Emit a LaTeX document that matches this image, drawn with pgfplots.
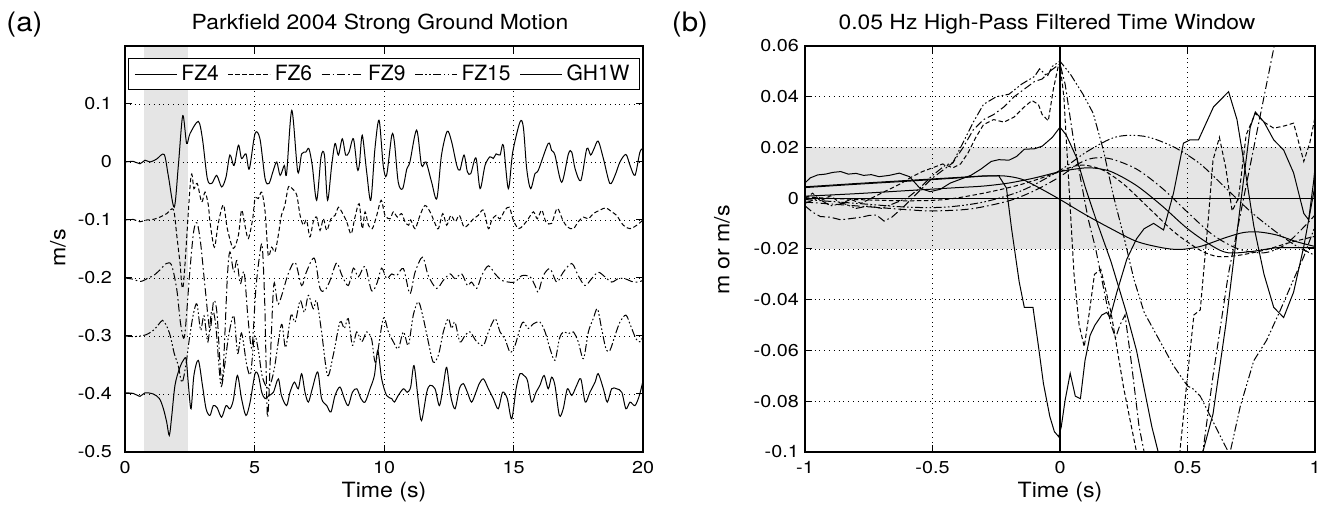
\documentclass[border=0pt]{standalone}
\usepackage{fontspec}
\setmainfont{TeX Gyre Heros}
\usepackage{pgfplots}
\pgfplotsset{compat=1.18}
\tikzset{
  fzsix/.style={dash pattern=on 2.2pt off 1.3pt},
  fznine/.style={dash pattern=on 4pt off 1.5pt on 0.8pt off 1.5pt},
  fzfifteen/.style={dash pattern=on 4pt off 1.2pt on 0.8pt off 1.2pt on 0.8pt off 1.2pt},
}
\pgfplotsset{
  mystyle/.style={
    scale only axis, height=203pt,
    axis line style={line width=1.1pt},
    tick align=inside, major tick length=3.5pt,
    tick style={black, line width=0.5pt},
    grid=major, grid style={dotted, black, line width=0.45pt},
    axis on top,
    cycle list={{black, solid, mark=none}},
    ticklabel style={font=\fontsize{8.6}{10}\selectfont, inner sep=0pt, xscale=1.15},
    xticklabel style={anchor=base, yshift=-11pt},
    every axis plot/.append style={line width=0.5pt, black, mark=none},
  }
}
\begin{document}
\begin{tikzpicture}
\begin{axis}[mystyle, at={(0pt,0pt)}, anchor=south west, width=259pt,
  xmin=0, xmax=20, ymin=-0.5, ymax=0.2,
  xtick={0,5,10,15,20}, xticklabels={0,5,10,15,20},
  ytick={-0.5,-0.4,-0.3,-0.2,-0.1,0,0.1}, yticklabels={-0.5,-0.4,-0.3,-0.2,-0.1,0,0.1},
  yticklabel style={anchor=east, xshift=-5.5pt},
  legend image code/.code={\draw[#1, line width=0.5pt] (0pt,0pt) -- (21pt,0pt);},
  legend style={at={(0.5,0.97)}, anchor=north, legend columns=5, draw=black, line width=0.6pt,
    font=\fontsize{10.5}{12.5}\selectfont, inner xsep=3pt, inner ysep=1pt,
    /tikz/every odd column/.append style={column sep=0pt},
    /tikz/every even column/.append style={column sep=2.5pt}},
]
\addplot[fill=black!10, draw=none, forget plot] coordinates {(0.73,-0.5) (0.73,0.2) (2.45,0.2) (2.45,-0.5)} -- cycle;
% FZ4
\addplot[smooth] coordinates {
(0,0)(0.32,0.001)(0.58,-0.003)(0.77,0.003)(0.97,0)(1.22,0.005)(1.51,0.013)(1.67,-0.023)(1.90,-0.078)(2.06,-0.006)(2.23,0.08)(2.38,0.032)(2.51,0.049)(2.83,0.07)(2.99,0.04)(3.18,-0.029)(3.35,-0.037)(3.54,-0.023)(3.73,-0.043)(3.90,-0.026)(4.05,0.012)(4.21,-0.006)(4.38,0.029)(4.50,0.006)(4.67,0.014)(4.80,-0.012)(5.02,0.049)(5.21,0.04)(5.41,-0.029)(5.56,-0.037)(5.73,-0.014)(5.86,0)(5.99,-0.023)(6.15,-0.006)(6.24,-0.02)(6.44,0.089)(6.67,-0.017)(6.82,0.014)(6.98,0.017)(7.10,0.023)(7.23,-0.006)(7.40,-0.066)(7.57,0.009)(7.70,0.012)(7.82,-0.066)(7.98,-0.006)(8.11,0.032)(8.24,0.012)(8.39,0.04)(8.52,0.012)(8.65,0.017)(8.82,0.04)(8.97,-0.012)(9.05,-0.004)(9.16,0.046)(9.33,-0.017)(9.49,-0.066)(9.65,0.023)(9.81,0.072)(9.97,-0.006)(10.10,-0.023)(10.30,0.046)(10.40,0.035)(10.55,-0.035)(10.72,-0.046)(10.88,-0.012)(11.0,0)(11.26,0.055)(11.45,-0.006)(11.62,0)(11.84,-0.035)(12.04,-0.063)(12.22,0.012)(12.44,0.053)(12.61,0.035)(12.81,-0.006)(12.93,-0.014)(13.09,0.012)(13.22,-0.017)(13.35,-0.02)(13.55,0.007)(13.71,-0.046)(13.90,-0.006)(14.09,0.009)(14.22,0.006)(14.33,0.014)(14.48,0.012)(14.61,0.029)(14.80,-0.046)(14.97,0.017)(15.25,0.069)(15.38,0.06)(15.51,-0.012)(15.66,-0.046)(15.83,-0.02)(15.96,-0.014)(16.34,0.032)(16.47,0.02)(16.60,0.012)(16.86,-0.035)(17.12,0.014)(17.25,0.017)(17.38,-0.012)(17.60,-0.032)(17.83,0.023)(17.98,0.012)(18.11,0.023)(18.27,0.036)(18.47,0.006)(18.72,-0.037)(18.92,-0.023)(19.11,0)(19.34,0.013)(19.50,-0.006)(19.69,-0.023)(19.88,0.017)(20.0,0.023)
};
\addlegendentry{FZ4}
% FZ6
\addplot[smooth, fzsix] coordinates {
(0,-0.1)(0.32,-0.099)(0.58,-0.103)(0.84,-0.1)(1.09,-0.099)(1.35,-0.095)(1.61,-0.089)(1.87,-0.082)(2.0,-0.127)(2.12,-0.172)(2.25,-0.213)(2.54,-0.028)(2.66,-0.046)(2.79,-0.037)(2.96,-0.069)(3.09,-0.052)(3.22,-0.075)(3.28,-0.103)(3.45,-0.147)(3.60,-0.106)(3.80,-0.074)(3.95,-0.115)(4.18,-0.149)(4.38,-0.126)(4.50,-0.083)(4.63,-0.109)(4.76,-0.132)(4.93,-0.098)(5.02,-0.063)(5.15,-0.063)(5.28,-0.052)(5.41,-0.086)(5.53,-0.161)(5.66,-0.147)(5.79,-0.155)(5.92,-0.126)(6.04,-0.092)(6.17,-0.075)(6.31,-0.043)(6.46,-0.046)(6.63,-0.057)(6.76,-0.092)(6.89,-0.109)(7.01,-0.1)(7.14,-0.129)(7.27,-0.103)(7.40,-0.095)(7.53,-0.118)(7.66,-0.098)(7.79,-0.118)(7.95,-0.098)(8.11,-0.092)(8.24,-0.078)(8.37,-0.086)(8.56,-0.103)(8.73,-0.124)(8.88,-0.095)(9.04,-0.072)(9.16,-0.115)(9.27,-0.086)(9.40,-0.109)(9.55,-0.115)(9.72,-0.092)(9.89,-0.066)(10.04,-0.092)(10.23,-0.098)(10.36,-0.086)(10.52,-0.095)(10.68,-0.089)(10.81,-0.103)(10.95,-0.109)(11.03,-0.1)(11.20,-0.115)(11.39,-0.092)(11.58,-0.075)(11.78,-0.086)(11.97,-0.106)(12.10,-0.115)(12.27,-0.089)(12.42,-0.109)(12.58,-0.092)(12.75,-0.103)(12.91,-0.092)(13.09,-0.112)(13.30,-0.106)(13.45,-0.098)(13.64,-0.092)(13.84,-0.083)(14.03,-0.115)(14.16,-0.1)(14.33,-0.092)(14.48,-0.098)(14.67,-0.083)(14.84,-0.078)(14.99,-0.1)(15.19,-0.115)(15.38,-0.109)(15.57,-0.098)(15.77,-0.086)(15.92,-0.098)(16.09,-0.083)(16.25,-0.103)(16.47,-0.106)(16.69,-0.08)(16.90,-0.1)(17.08,-0.112)(17.31,-0.115)(17.50,-0.103)(17.70,-0.095)(17.89,-0.098)(18.08,-0.089)(18.34,-0.083)(18.57,-0.079)(18.79,-0.086)(18.98,-0.092)(19.24,-0.109)(19.50,-0.115)(19.76,-0.109)(20.0,-0.1)
};
\addlegendentry{FZ6}
% FZ9
\addplot[smooth, fznine] coordinates {
(0,-0.2)(0.3,-0.202)(0.6,-0.206)(0.9,-0.2)(1.1,-0.196)(1.35,-0.186)(1.6,-0.175)(1.8,-0.178)(2.0,-0.22)(2.15,-0.28)(2.3,-0.30)(2.5,-0.19)(2.65,-0.12)(2.78,-0.105)(2.92,-0.14)(3.1,-0.22)(3.28,-0.29)(3.42,-0.24)(3.55,-0.26)(3.75,-0.38)(3.95,-0.2)(4.05,-0.155)(4.2,-0.19)(4.32,-0.17)(4.45,-0.21)(4.6,-0.19)(4.75,-0.27)(4.9,-0.32)(5.05,-0.22)(5.2,-0.16)(5.3,-0.145)(5.4,-0.25)(5.5,-0.44)(5.62,-0.33)(5.75,-0.21)(5.92,-0.245)(6.3,-0.193)(6.57,-0.173)(6.82,-0.213)(7.0,-0.19)(7.31,-0.166)(7.53,-0.218)(7.72,-0.221)(7.91,-0.205)(8.17,-0.174)(8.37,-0.195)(8.62,-0.213)(8.82,-0.183)(9.01,-0.198)(9.27,-0.180)(9.52,-0.222)(9.72,-0.21)(9.91,-0.183)(10.10,-0.201)(10.30,-0.193)(10.49,-0.196)(10.75,-0.184)(11.0,-0.227)(11.2,-0.19)(11.49,-0.164)(11.71,-0.196)(12.03,-0.218)(12.29,-0.204)(12.55,-0.193)(12.74,-0.201)(13.0,-0.193)(13.22,-0.213)(13.38,-0.207)(13.58,-0.218)(13.77,-0.196)(14.03,-0.179)(14.29,-0.193)(14.54,-0.204)(14.8,-0.207)(15.06,-0.207)(15.32,-0.196)(15.64,-0.198)(15.83,-0.213)(15.96,-0.224)(16.15,-0.196)(16.41,-0.184)(16.67,-0.207)(16.92,-0.19)(17.25,-0.175)(17.5,-0.196)(17.76,-0.213)(18.02,-0.201)(18.27,-0.19)(18.53,-0.198)(18.79,-0.207)(19.05,-0.201)(19.3,-0.201)(19.56,-0.206)(19.82,-0.207)(20.0,-0.204)
};
\addlegendentry{FZ9}
% FZ15
\addplot[smooth, fzfifteen] coordinates {
(0,-0.3)(0.4,-0.301)(0.8,-0.298)(1.1,-0.29)(1.3,-0.28)(1.45,-0.273)(1.6,-0.282)(1.75,-0.30)(1.9,-0.33)(2.05,-0.35)(2.2,-0.38)(2.35,-0.35)(2.5,-0.3)(2.65,-0.26)(2.78,-0.245)(2.92,-0.29)(3.05,-0.265)(3.2,-0.31)(3.35,-0.255)(3.5,-0.28)(3.7,-0.385)(3.85,-0.35)(4.0,-0.30)(4.2,-0.265)(4.35,-0.33)(4.5,-0.295)(4.7,-0.35)(4.85,-0.365)(5.0,-0.3)(5.15,-0.325)(5.3,-0.37)(5.53,-0.39)(5.75,-0.36)(6.04,-0.28)(6.2,-0.32)(6.41,-0.264)(6.57,-0.276)(6.76,-0.239)(6.93,-0.259)(7.08,-0.23)(7.27,-0.253)(7.4,-0.239)(7.59,-0.293)(7.82,-0.368)(8.04,-0.333)(8.3,-0.276)(8.47,-0.287)(8.62,-0.27)(8.78,-0.316)(8.95,-0.293)(9.14,-0.31)(9.33,-0.293)(9.52,-0.305)(9.68,-0.345)(9.97,-0.27)(10.17,-0.293)(10.36,-0.31)(10.55,-0.322)(10.75,-0.293)(10.94,-0.316)(11.13,-0.264)(11.33,-0.241)(11.52,-0.27)(11.71,-0.31)(11.9,-0.345)(12.1,-0.333)(12.29,-0.293)(12.48,-0.27)(12.61,-0.287)(12.74,-0.276)(12.93,-0.31)(13.13,-0.299)(13.32,-0.293)(13.58,-0.31)(13.84,-0.316)(14.03,-0.293)(14.29,-0.27)(14.48,-0.293)(14.67,-0.305)(14.87,-0.328)(15.06,-0.316)(15.25,-0.287)(15.38,-0.276)(15.57,-0.287)(15.77,-0.279)(16.02,-0.276)(16.22,-0.293)(16.41,-0.322)(16.6,-0.342)(16.77,-0.305)(16.92,-0.293)(17.12,-0.296)(17.31,-0.293)(17.5,-0.31)(17.7,-0.339)(17.89,-0.293)(18.08,-0.27)(18.24,-0.253)(18.4,-0.287)(18.57,-0.322)(18.72,-0.325)(18.92,-0.299)(19.11,-0.276)(19.34,-0.264)(19.52,-0.282)(19.73,-0.305)(19.88,-0.31)(20.0,-0.301)
};
\addlegendentry{FZ15}
% GH1W
\addplot[smooth] coordinates {
(0,-0.398)(0.32,-0.399)(0.58,-0.404)(0.77,-0.398)(1.09,-0.400)(1.33,-0.408)(1.48,-0.425)(1.61,-0.4485)(1.71,-0.4715)(1.80,-0.44)(1.93,-0.385)(2.10,-0.3565)(2.25,-0.342)(2.36,-0.340)(2.45,-0.385)(2.55,-0.4255)(2.66,-0.368)(2.83,-0.342)(2.99,-0.385)(3.13,-0.4255)(3.28,-0.437)(3.41,-0.42)(3.56,-0.424)(3.73,-0.44)(3.90,-0.42)(4.05,-0.4255)(4.18,-0.411)(4.34,-0.368)(4.50,-0.408)(4.67,-0.437)(4.83,-0.414)(5.02,-0.365)(5.15,-0.368)(5.28,-0.397)(5.41,-0.408)(5.56,-0.4025)(5.73,-0.397)(5.92,-0.374)(6.04,-0.4025)(6.24,-0.42)(6.37,-0.397)(6.54,-0.3795)(6.69,-0.391)(6.82,-0.365)(6.95,-0.397)(7.08,-0.414)(7.23,-0.391)(7.44,-0.362)(7.59,-0.408)(7.79,-0.42)(7.95,-0.431)(8.11,-0.4025)(8.30,-0.388)(8.47,-0.408)(8.62,-0.42)(8.78,-0.397)(8.95,-0.391)(9.11,-0.408)(9.27,-0.414)(9.46,-0.391)(9.63,-0.368)(9.76,-0.325)(9.91,-0.374)(10.10,-0.4025)(10.30,-0.408)(10.40,-0.414)(10.55,-0.4025)(10.75,-0.391)(10.90,-0.397)(11.03,-0.388)(11.16,-0.351)(11.33,-0.414)(11.45,-0.446)(11.65,-0.397)(11.78,-0.385)(11.97,-0.391)(12.14,-0.42)(12.29,-0.385)(12.42,-0.354)(12.57,-0.4025)(12.74,-0.4255)(12.91,-0.391)(13.06,-0.382)(13.22,-0.397)(13.38,-0.414)(13.55,-0.397)(13.68,-0.382)(13.84,-0.374)(14.03,-0.391)(14.22,-0.408)(14.41,-0.4255)(14.58,-0.397)(14.76,-0.408)(14.93,-0.443)(15.10,-0.391)(15.25,-0.365)(15.40,-0.368)(15.54,-0.377)(15.70,-0.414)(15.87,-0.397)(16.02,-0.385)(16.18,-0.368)(16.34,-0.391)(16.47,-0.371)(16.60,-0.385)(16.77,-0.437)(16.92,-0.4255)(17.08,-0.391)(17.25,-0.4025)(17.44,-0.385)(17.60,-0.374)(17.77,-0.414)(17.95,-0.397)(18.15,-0.3795)(18.27,-0.365)(18.47,-0.391)(18.62,-0.414)(18.79,-0.391)(18.98,-0.391)(19.18,-0.397)(19.34,-0.4255)(19.50,-0.414)(19.69,-0.42)(19.86,-0.4025)(20.0,-0.377)
};
\addlegendentry{GH1W}
\end{axis}

\begin{axis}[mystyle, at={(340pt,0pt)}, anchor=south west, width=255pt,
  xmin=-1, xmax=1, ymin=-0.1, ymax=0.06,
  xtick={-1,-0.5,0,0.5,1}, xticklabels={-1,-0.5,0,0.5,1},
  ytick={-0.1,-0.08,-0.06,-0.04,-0.02,0,0.02,0.04,0.06},
  yticklabels={-0.1,-0.08,-0.06,-0.04,-0.02,0,0.02,0.04,0.06},
  yticklabel style={anchor=east, xshift=-2.5pt},
]
\addplot[fill=black!10, draw=none] coordinates {(-1,-0.02) (1,-0.02) (1,0.02) (-1,0.02)} -- cycle;
\addplot[line width=0.6pt] coordinates {(-1,0) (1,0)};
\addplot[line width=0.6pt] coordinates {(0,-0.1) (0,0.06)};
% solid displacement curves
\addplot[smooth] coordinates {(-1,0.0008)(-0.8,0.0018)(-0.6,0.003)(-0.4,0.0042)(-0.3,0.0048)(-0.2,0.006)(-0.1,0.008)(0,0.0105)(0.06,0.0115)(0.12,0.012)(0.2,0.0105)(0.3,0.005)(0.4,-0.003)(0.5,-0.012)(0.6,-0.019)(0.66,-0.0215)(0.75,-0.021)(0.85,-0.0195)(0.93,-0.0195)(1.0,-0.0195)};
\addplot[smooth] coordinates {(-1,0.0042)(-0.8,0.0055)(-0.6,0.0067)(-0.4,0.008)(-0.3,0.0087)(-0.22,0.0088)(-0.15,0.0075)(-0.08,0.004)(0,-0.0005)(0.1,-0.0065)(0.2,-0.012)(0.3,-0.017)(0.4,-0.0195)(0.47,-0.0202)(0.55,-0.019)(0.65,-0.0155)(0.72,-0.0135)(0.78,-0.0133)(0.85,-0.0145)(0.93,-0.0172)(1.0,-0.019)};
% other displacement curves
\addplot[smooth, fzsix] coordinates {(-1,0.0005)(-0.8,-0.0005)(-0.6,-0.001)(-0.45,-0.0005)(-0.3,0.002)(-0.15,0.0055)(0,0.0105)(0.05,0.0125)(0.1,0.013)(0.17,0.011)(0.25,0.0055)(0.35,-0.004)(0.45,-0.0135)(0.55,-0.0205)(0.62,-0.023)(0.7,-0.0225)(0.8,-0.0205)(0.9,-0.0175)(1.0,-0.015)};
\addplot[smooth, fznine] coordinates {(-1,-0.0015)(-0.8,-0.003)(-0.6,-0.0045)(-0.5,-0.005)(-0.35,-0.0042)(-0.2,-0.001)(-0.1,0.003)(0,0.0085)(0.07,0.0135)(0.13,0.0158)(0.2,0.0155)(0.3,0.0115)(0.4,0.004)(0.5,-0.0055)(0.6,-0.0145)(0.7,-0.02)(0.8,-0.0215)(0.88,-0.0185)(0.95,-0.012)(1.0,-0.0066)};
\addplot[smooth, fzfifteen] coordinates {(-1,-0.0005)(-0.8,-0.002)(-0.6,-0.0035)(-0.45,-0.0035)(-0.3,-0.0015)(-0.15,0.003)(0,0.011)(0.1,0.018)(0.2,0.0235)(0.27,0.0248)(0.35,0.024)(0.45,0.02)(0.55,0.0135)(0.65,0.004)(0.75,-0.0055)(0.85,-0.0135)(0.93,-0.019)(1.0,-0.0225)};
% solid velocity curves
\addplot[solid] coordinates {(-1,0.0045)(-0.8,0.0058)(-0.6,0.007)(-0.4,0.0082)(-0.3,0.0088)(-0.24,0.0088)(-0.21,0.004)(-0.19,-0.012)(-0.16,-0.033)(-0.14,-0.043)(-0.106,-0.043)(-0.085,-0.058)(-0.065,-0.073)(-0.04,-0.086)(-0.022,-0.092)(-0.005,-0.094)(0.005,-0.09)(0.02,-0.0796)(0.04,-0.069)(0.06,-0.078)(0.08,-0.079)(0.098,-0.064)(0.118,-0.054)(0.137,-0.05)(0.164,-0.046)(0.183,-0.045)(0.196,-0.047)(0.223,-0.037)(0.262,-0.024)(0.30,-0.016)(0.33,-0.012)(0.367,-0.0099)(0.406,-0.0125)(0.445,0.002)(0.484,0.0217)(0.51,0.023)(0.543,0.023)(0.602,0.036)(0.661,0.042)(0.694,0.031)(0.72,0.015)(0.76,-0.011)(0.8,-0.03)(0.838,-0.043)(0.877,-0.047)(0.916,-0.037)(0.956,-0.019)(1.0,0.005)};
\addplot[solid] coordinates {(-1,0.006)(-0.98,0.008)(-0.95,0.0092)(-0.92,0.0095)(-0.89,0.0102)(-0.86,0.0105)(-0.83,0.0095)(-0.8,0.0098)(-0.77,0.009)(-0.74,0.0093)(-0.71,0.0085)(-0.67,0.009)(-0.63,0.0099)(-0.59,0.0085)(-0.55,0.004)(-0.51,0.0026)(-0.47,0.0035)(-0.43,0.006)(-0.39,0.0075)(-0.35,0.009)(-0.31,0.0115)(-0.27,0.0145)(-0.24,0.0152)(-0.2,0.015)(-0.17,0.0165)(-0.14,0.0193)(-0.1,0.0195)(-0.07,0.0205)(-0.03,0.024)(0,0.028)(0.024,0.025)(0.065,0.016)(0.1,0.004)(0.14,-0.008)(0.2,-0.025)(0.26,-0.045)(0.3,-0.06)(0.33,-0.075)(0.36,-0.09)(0.385,-0.1)(0.42,-0.115)(0.48,-0.125)(0.53,-0.115)(0.56,-0.1)(0.6,-0.085)(0.65,-0.05)(0.707,-0.003)(0.746,0.028)(0.766,0.034)(0.8,0.03)(0.838,0.023)(0.877,0.019)(0.916,0.01)(0.956,-0.006)(0.975,-0.0085)(0.995,0.007)(1.0,0.012)};
% FZ6 velocity
\addplot[fzsix] coordinates {(-1,0.0)(-0.97,0.002)(-0.94,-0.001)(-0.9,0.001)(-0.86,-0.002)(-0.82,-0.0005)(-0.78,-0.002)(-0.74,0.0)(-0.7,0.002)(-0.66,0.004)(-0.62,0.006)(-0.58,0.0085)(-0.54,0.0105)(-0.5,0.012)(-0.46,0.0135)(-0.42,0.012)(-0.39,0.0135)(-0.36,0.018)(-0.33,0.024)(-0.3,0.029)(-0.26,0.031)(-0.22,0.03)(-0.18,0.032)(-0.14,0.036)(-0.11,0.0385)(-0.085,0.037)(-0.07,0.033)(-0.046,0.0305)(-0.026,0.043)(-0.007,0.052)(0,0.053)(0.015,0.04)(0.035,0.005)(0.055,-0.03)(0.075,-0.05)(0.095,-0.0585)(0.115,-0.045)(0.135,-0.03)(0.16,-0.028)(0.2,-0.045)(0.25,-0.075)(0.3,-0.1)(0.36,-0.125)(0.43,-0.13)(0.47,-0.1)(0.5,-0.07)(0.525,-0.046)(0.55,-0.044)(0.58,-0.01)(0.6,0.015)(0.625,0.024)(0.65,0.012)(0.675,-0.005)(0.7,0.0)(0.73,0.025)(0.766,0.0335)(0.8,0.03)(0.838,0.0276)(0.88,0.0285)(0.916,0.0296)(0.956,0.0145)(0.98,0.022)(1.0,0.032)};
% FZ9 velocity
\addplot[fznine] coordinates {(-1,-0.003)(-0.97,-0.0055)(-0.94,-0.0072)(-0.9,-0.0075)(-0.86,-0.0085)(-0.82,-0.008)(-0.78,-0.0075)(-0.75,-0.0068)(-0.72,-0.0066)(-0.69,-0.009)(-0.66,-0.0075)(-0.62,-0.004)(-0.58,0.0)(-0.54,0.004)(-0.5,0.008)(-0.46,0.011)(-0.42,0.014)(-0.38,0.02)(-0.34,0.027)(-0.3,0.031)(-0.26,0.033)(-0.22,0.036)(-0.18,0.04)(-0.14,0.043)(-0.1,0.046)(-0.07,0.047)(-0.04,0.05)(0,0.053)(0.02,0.045)(0.05,0.025)(0.08,0.008)(0.11,-0.008)(0.14,-0.02)(0.17,-0.035)(0.2,-0.05)(0.218,-0.055)(0.235,-0.05)(0.255,-0.046)(0.28,-0.065)(0.31,-0.09)(0.33,-0.1)(0.38,-0.125)(0.45,-0.135)(0.52,-0.12)(0.56,-0.1)(0.6,-0.07)(0.66,-0.03)(0.72,0.0)(0.78,0.03)(0.84,0.06)(0.87,0.075)};
% FZ15 velocity
\addplot[fzfifteen] coordinates {(-1,-0.002)(-0.95,0.0)(-0.9,-0.003)(-0.85,-0.002)(-0.8,-0.004)(-0.75,-0.003)(-0.7,-0.004)(-0.65,-0.002)(-0.6,0.0)(-0.55,0.004)(-0.5,0.009)(-0.45,0.013)(-0.42,0.014)(-0.38,0.022)(-0.34,0.03)(-0.3,0.037)(-0.25,0.04)(-0.2,0.041)(-0.15,0.045)(-0.1,0.048)(-0.08,0.051)(-0.05,0.048)(-0.03,0.052)(0,0.054)(0.04,0.049)(0.09,0.041)(0.13,0.0335)(0.17,0.019)(0.21,0.0007)(0.25,-0.015)(0.29,-0.032)(0.33,-0.045)(0.39,-0.056)(0.445,-0.066)(0.5,-0.074)(0.52,-0.075)(0.55,-0.078)(0.59,-0.086)(0.63,-0.094)(0.665,-0.101)(0.707,-0.082)(0.76,-0.064)(0.81,-0.056)(0.86,-0.045)(0.916,-0.032)(0.956,-0.023)(1.0,-0.011)};
\end{axis}

\node[font=\fontsize{13.4}{15}\selectfont, inner sep=0pt, xscale=1.1] at (-50.25pt,213.75pt) {(a)};
\node[font=\fontsize{13.4}{15}\selectfont, inner sep=0pt, xscale=1.1] at (282.5pt,213.75pt) {(b)};
\node[anchor=base, inner sep=0pt, font=\fontsize{10.4}{12}\selectfont, xscale=1.1] at (127.5pt,211pt) {Parkfield 2004 Strong Ground Motion};
\node[anchor=base, inner sep=0pt, font=\fontsize{10.4}{12}\selectfont, xscale=1.1] at (461pt,211pt) {0.05 Hz High-Pass Filtered Time Window};
\node[anchor=base, inner sep=0pt, font=\fontsize{10.5}{12}\selectfont, xscale=1.1] at (129.5pt,-23pt) {Time (s)};
\node[anchor=base, inner sep=0pt, font=\fontsize{10.5}{12}\selectfont, xscale=1.1] at (467.5pt,-23pt) {Time (s)};
\node[rotate=90, inner sep=0pt, font=\fontsize{10.5}{12}\selectfont, xscale=1.1] at (-33.5pt,102pt) {m/s};
\node[rotate=90, inner sep=0pt, font=\fontsize{10.5}{12}\selectfont, xscale=1.1] at (298.5pt,101pt) {m or m/s};
\pgfresetboundingbox
\path (-62.5pt,-27pt) rectangle (600pt,226pt);
\end{tikzpicture}
\end{document}
